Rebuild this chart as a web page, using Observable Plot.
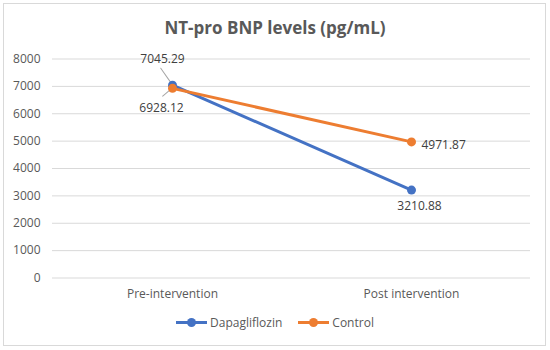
<!DOCTYPE html>
<html><head><meta charset="utf-8">
<script src="https://cdn.jsdelivr.net/npm/d3@7"></script>
<script src="https://cdn.jsdelivr.net/npm/@observablehq/plot@0.6"></script>
<style>
body{margin:0;background:#fff;font-family:"Open Sans",sans-serif;}
#chart{position:relative;width:550px;height:350px;}
#frame{position:absolute;left:3px;top:3px;width:543px;height:343px;border:1px solid #d9d9d9;box-sizing:border-box;pointer-events:none;}
#title{position:absolute;left:0;width:550px;top:16px;text-align:center;font-size:17px;font-weight:700;color:#595959;}
#legend{position:absolute;left:0;width:550px;top:314px;display:flex;justify-content:center;gap:16px;font-size:12px;color:#595959;}
.item{display:flex;align-items:center;gap:3px;}
.sw{position:relative;width:31px;height:10px;}
.sw .ln{position:absolute;left:0;right:0;top:3.5px;height:3px;}
.sw .dt{position:absolute;left:11px;top:0;width:9px;height:9px;border-radius:50%;}
#plot svg{position:absolute;left:0;top:0;}
</style></head>
<body>
<div id="chart">
  <div id="plot"></div>
  <div id="title"></div>
  <div id="legend"></div>
  <div id="frame"></div>
</div>
<script>
const titleText = "NT-pro BNP levels (pg/mL)";
const periods = ["Pre-intervention", "Post intervention"];
const seriesNames = ["Dapagliflozin", "Control"];
const dapagliflozin = [7045.29, 3210.88];
const control = [6928.12, 4971.87];
const yTicks = [0, 1000, 2000, 3000, 4000, 5000, 6000, 7000, 8000];
const colors = ["#4472C4", "#ED7D31"];

const seriesValues = [dapagliflozin, control];
const rows = [];
seriesNames.forEach((s, si) => periods.forEach((p, pi) => rows.push({series: s, period: p, value: seriesValues[si][pi]})));

// label placement (style only)
const labelPos = {
  "Dapagliflozin|Pre-intervention": {dx: -10, dy: -26, anchor: "middle"},
  "Control|Pre-intervention": {dx: -11, dy: 20, anchor: "middle"},
  "Control|Post intervention": {dx: 10, dy: 3, anchor: "start"},
  "Dapagliflozin|Post intervention": {dx: 8, dy: 16, anchor: "middle"}
};
const labelMarks = rows.map(r => {
  const o = labelPos[r.series + "|" + r.period];
  return Plot.text([r], {x: "period", y: "value", text: d => d.value.toFixed(2), dx: o.dx, dy: o.dy, textAnchor: o.anchor, fill: "#404040", fontSize: 12});
});
const leaderShape = {draw(context, l) { context.moveTo(0, 0); context.lineTo(0, -l); }};
const leaderMarks = [
  Plot.vector(rows.filter(r => r.series === "Dapagliflozin" && r.period === periods[0]), {x: "period", y: "value", length: 17, rotate: -35, anchor: "start", shape: leaderShape, stroke: "#a6a6a6", strokeWidth: 1, dx: -2, dy: -3}),
  Plot.vector(rows.filter(r => r.series === "Control" && r.period === periods[0]), {x: "period", y: "value", length: 9, rotate: -131, anchor: "start", shape: leaderShape, stroke: "#a6a6a6", strokeWidth: 1, dx: -3, dy: 2})
];

const chart = Plot.plot({
  width: 550, height: 350,
  marginLeft: 52, marginRight: 20, marginTop: 58.5, marginBottom: 72.5,
  style: {fontFamily: "'Open Sans', sans-serif", background: "transparent"},
  x: {type: "point", domain: periods, padding: 0.5, label: null},
  y: {domain: [0, 8000], label: null},
  color: {domain: seriesNames, range: colors},
  marks: [
    Plot.gridY(yTicks, {stroke: "#d9d9d9", strokeOpacity: 1, strokeWidth: 1}),
    Plot.axisY(yTicks, {tickSize: 0, tickPadding: 12, fontSize: 12, fill: "#595959", label: null, tickFormat: d => String(d)}),
    Plot.axisX({tickSize: 0, tickPadding: 11, fontSize: 12, fill: "#595959", label: null}),
    ...leaderMarks,
    Plot.line(rows, {x: "period", y: "value", z: "series", stroke: "series", strokeWidth: 3}),
    Plot.dot(rows, {x: "period", y: "value", fill: "series", r: 4.5}),
    ...labelMarks
  ]
});
document.getElementById("plot").appendChild(chart);
document.getElementById("title").textContent = titleText;
const legend = document.getElementById("legend");
seriesNames.forEach((s, i) => {
  const it = document.createElement("div"); it.className = "item";
  it.innerHTML = `<div class="sw"><div class="ln" style="background:${colors[i]}"></div><div class="dt" style="background:${colors[i]}"></div></div><span></span>`;
  it.querySelector("span").textContent = s;
  legend.appendChild(it);
});
</script>
</body></html>
